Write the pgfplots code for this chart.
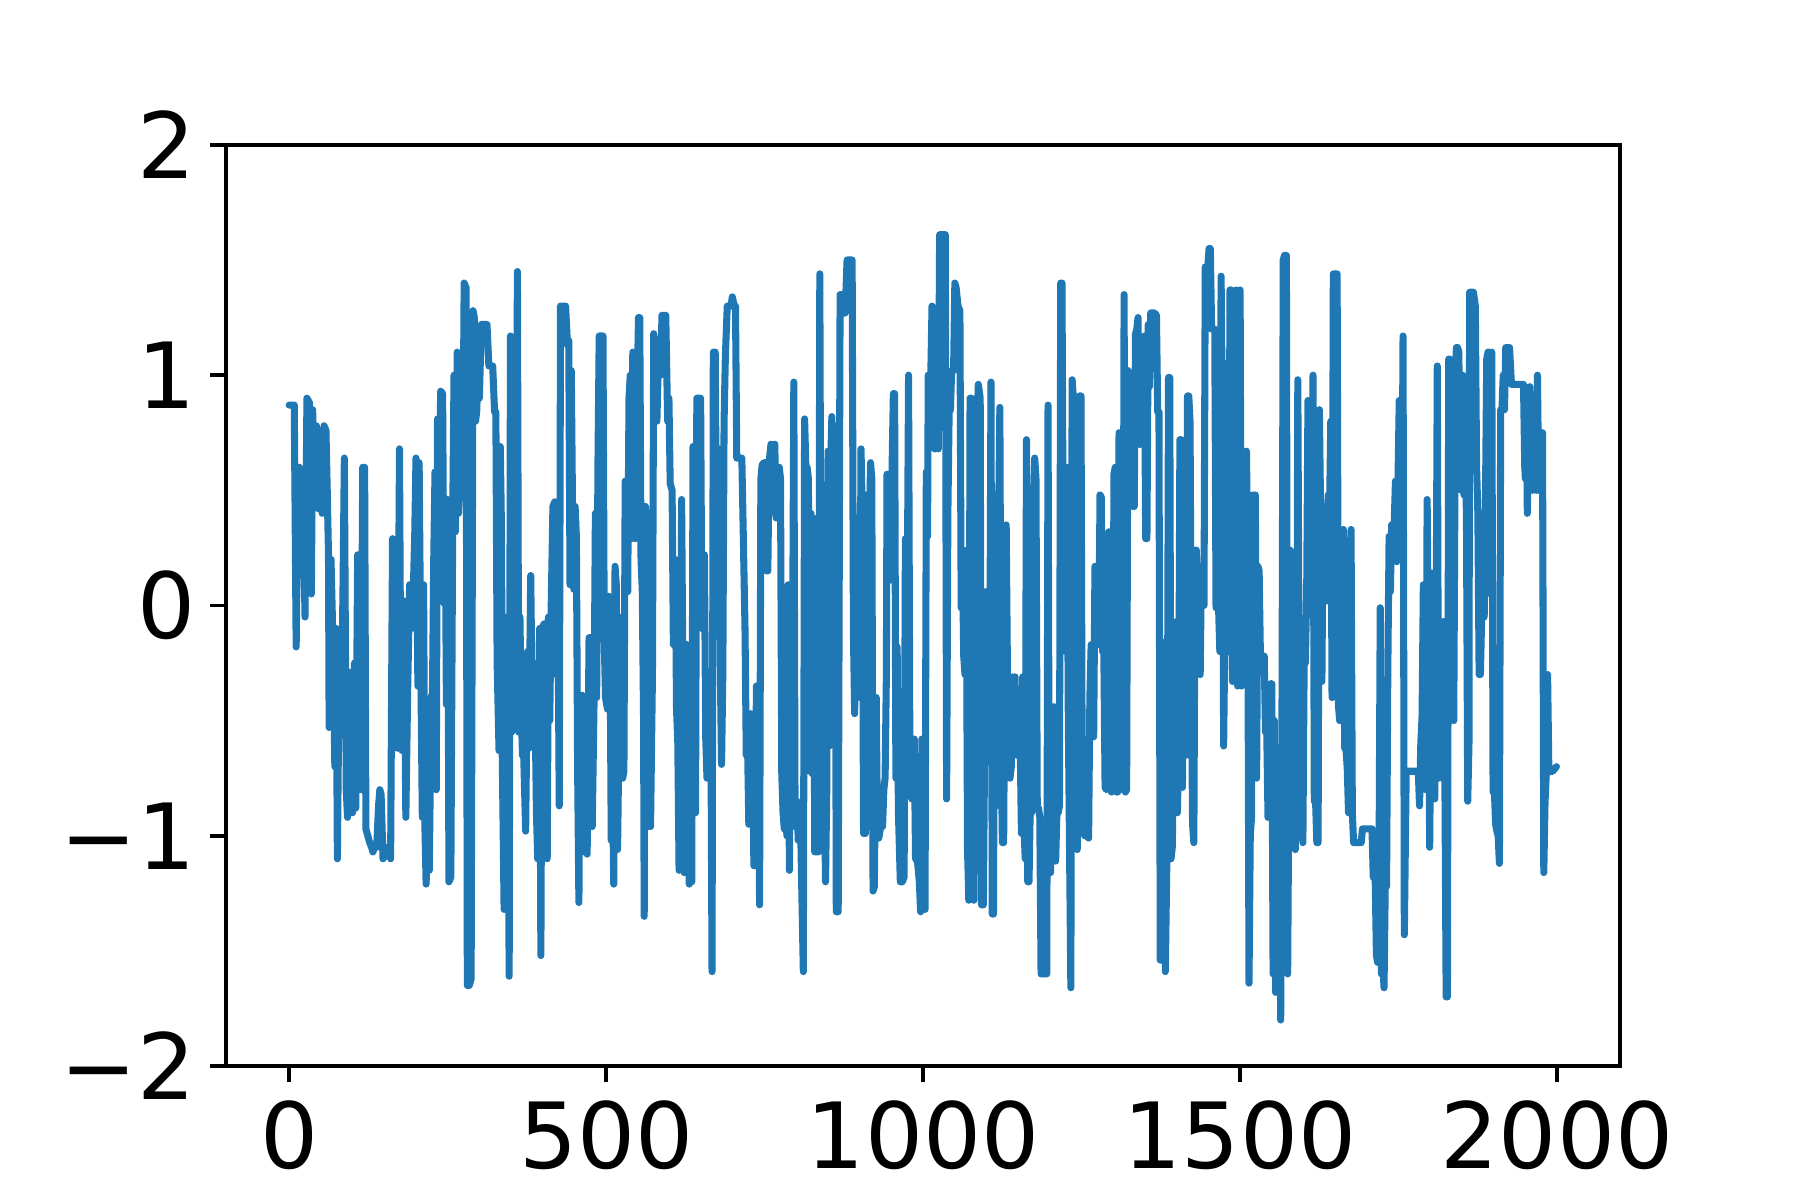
\documentclass[border=0pt]{standalone}
\usepackage{pgfplots}
\pgfplotsset{compat=1.18}
\usepackage{fontspec}
\setmainfont{DejaVu Sans}
\definecolor{c0}{HTML}{1F77B4}
\begin{document}
\begin{tikzpicture}
\begin{axis}[
  at={(0,0)}, anchor=south west,
  scale only axis, width=335.8pt, height=221.9pt,
  xmin=-99.95, xmax=2098.95, ymin=-2, ymax=2,
  xtick={0,500,1000,1500,2000},
  xticklabels={0,500,1000,1500,2000},
  ytick={-2,-1,0,1,2},
  yticklabels={−2,−1,0,1,2},
  xtick pos=bottom, ytick pos=left,
  tick align=outside,
  major tick length=3.8pt,
  tick style={black, line width=0.85pt},
  axis line style={black, line width=0.85pt},
  ticklabel style={font=\fontsize{22}{26}\selectfont},
  xticklabel style={yshift=-1pt},
]
\addplot[c0, line width=1.7pt, line join=round, line cap=round] coordinates {
(0,0.87)(8,0.87)(11,-0.18)(14,0.55)(16,0.60)(19,0.13)(21,0.58)(25,-0.05)(28,0.90)(32,0.88)
(35,0.05)(37,0.85)(40,0.45)(43,0.78)(46,0.42)(49,0.75)(52,0.40)(55,0.78)(58,0.76)(60,0.50)
(62,0.22)(63,-0.53)(66,0.20)(68,-0.04)(70,-0.30)(72,-0.70)(74,-0.10)(76,-1.10)(79,-0.20)(82,-0.55)
(85,0.10)(87,0.64)(90,-0.80)(92,-0.92)(95,-0.29)(97,-0.40)(100,-0.90)(103,-0.25)(105,-0.88)(108,0.22)
(110,-0.50)(113,-0.80)(116,0.60)(119,0.60)(121,-0.97)(124,-1.00)(127,-1.03)(130,-1.05)(132,-1.07)(135,-1.05)
(138,-1.05)(141,-0.87)(143,-0.80)(145,-0.82)(148,-1.10)(152,-1.08)(156,-1.05)(160,-1.10)(163,0.29)(166,-0.60)
(169,-0.14)(171,-0.62)(174,0.68)(176,-0.40)(178,-0.63)(181,0.02)(184,-0.92)(187,-0.35)(190,0.09)(193,-0.10)
(196,0.09)(198,0.30)(200,0.64)(203,-0.35)(205,0.62)(208,-0.38)(210,-0.92)(212,0.09)(214,-0.95)(216,-1.21)
(219,-0.90)(221,-1.15)(224,-0.40)(226,-0.38)(228,0.20)(230,0.58)(232,-0.80)(234,0.81)(237,0.60)(239,0.93)
(242,0.92)(244,0.01)(246,0.45)(248,-0.43)(250,0.46)(252,-1.20)(255,-1.18)(258,0.40)(260,1.0)(262,0.32)
(264,0.55)(265,1.1)(267,0.40)(269,0.53)(271,0.55)(274,0.60)(276,1.40)(279,1.38)(281,-1.65)(284,-1.65)
(287,-1.62)(290,1.28)(292,1.25)(294,0.80)(296,0.85)(298,1.12)(300,0.90)(303,1.22)(306,1.22)(309,1.22)
(312,1.22)(315,1.04)(318,1.04)(321,1.04)(324,0.84)(326,0.84)(328,-0.25)(331,-0.63)(333,0.69)(335,0.30)
(336,-0.63)(339,-1.32)(341,-0.60)(343,-0.05)(345,-0.55)(347,-1.61)(349,1.17)(351,-0.55)(353,-0.05)(355,-0.50)
(357,-0.30)(360,1.45)(362,-0.55)(364,-0.05)(366,-0.45)(368,-0.65)(370,-0.66)(373,-0.98)(376,-0.20)(378,-0.62)
(381,0.13)(384,-0.60)(387,-0.25)(390,-0.90)(392,-1.10)(395,-0.10)(397,-1.52)(399,-0.10)(402,-0.08)(405,-0.55)
(407,-1.10)(409,-0.05)(411,-0.50)(413,-0.05)(416,0.43)(419,0.45)(421,-0.30)(423,0.40)(426,-0.87)(428,1.30)
(432,1.30)(436,1.30)(439,1.13)(441,1.15)(443,0.09)(445,1.02)(447,0.40)(449,0.07)(451,0.43)(453,0.30)
(455,-0.72)(457,-1.29)(459,-0.40)(462,-0.39)(465,-1.07)(467,-0.90)(470,-1.08)(473,-0.14)(476,-0.14)(478,-0.96)
(481,-0.40)(483,0.40)(485,-0.40)(487,0.60)(489,1.17)(492,1.17)(495,1.17)(497,-0.16)(499,-0.40)(502,-0.45)
(504,0.04)(506,-0.10)(508,-1.02)(510,-0.80)(512,-1.21)(514,0.17)(516,0.09)(518,-1.06)(520,-0.60)(522,-0.69)
(524,-0.05)(526,-0.75)(528,-0.72)(530,0.54)(532,0.54)(534,0.06)(536,0.90)(538,1.00)(540,0.29)(542,1.10)
(544,0.35)(546,0.29)(548,0.80)(551,1.25)(553,1.25)(555,0.20)(557,0.06)(559,-0.50)(560,-1.35)(562,0.43)
(564,-0.30)(566,-0.96)(568,0.40)(570,-0.96)(573,-0.30)(575,1.18)(578,1.10)(580,0.80)(583,1.14)(586,1.00)
(588,1.26)(591,1.26)(594,1.26)(597,0.80)(599,0.90)(601,0.53)(604,0.50)(606,-0.17)(609,0.20)(611,-0.45)
(613,-0.60)(615,-1.15)(617,-0.80)(619,0.46)(621,-0.30)(623,-1.16)(625,-0.20)(627,-0.17)(629,-0.90)(631,-1.21)
(633,-0.50)(635,-1.20)(637,0.69)(639,-0.40)(641,-0.90)(643,0.90)(646,0.90)(649,0.90)(651,-0.10)(653,-0.10)
(655,0.22)(657,-0.57)(659,-0.75)(661,-0.60)(663,-0.38)(665,-0.40)(667,-1.59)(669,1.10)(672,1.10)(674,0.30)
(676,0.30)(678,0.68)(680,-0.27)(682,-0.69)(684,-0.30)(686,0.80)(688,1.08)(691,1.30)(694,1.30)(697,1.30)
(699,1.34)(702,1.30)(704,1.30)(706,0.64)(709,0.64)(712,0.64)(714,0.64)(716,0.35)(719,-0.10)(721,-0.65)
(723,-0.60)(725,-0.95)(728,-0.47)(731,-0.60)(733,-1.13)(735,-1.13)(737,-0.35)(740,-0.35)(742,-1.30)(744,0.55)
(746,0.61)(749,0.62)(751,0.62)(753,0.15)(755,0.15)(757,0.62)(760,0.70)(763,0.69)(766,0.70)(768,0.38)
(770,0.38)(773,0.60)(775,0.55)(777,-0.73)(779,-0.90)(781,-0.97)(783,-0.80)(785,-1.0)(787,0.09)(789,-1.15)
(791,-0.20)(793,-0.84)(796,0.97)(798,-0.96)(801,-0.85)(803,-1.02)(805,-0.90)(807,-1.0)(809,-1.30)(811,-1.59)
(813,0.81)(815,0.60)(817,0.60)(819,0.55)(821,-0.72)(823,0.40)(825,-0.73)(827,0.38)(829,-1.07)(832,-1.07)
(835,-1.07)(837,1.44)(839,-0.30)(841,-0.35)(843,-0.50)(846,-1.20)(848,-0.80)(850,0.67)(852,-0.61)(854,0.60)
(856,0.82)(858,0.20)(861,0.78)(863,-1.33)(866,-1.33)(869,1.35)(872,1.35)(874,1.27)(877,1.27)(880,1.50)
(884,1.50)(888,1.50)(890,-0.12)(892,-0.47)(894,0.38)(896,0.38)(898,-0.20)(900,-0.40)(902,0.68)(904,0.40)
(906,-0.99)(909,-0.99)(911,0.48)(913,0.17)(915,0.30)(917,0.62)(919,0.55)(921,-1.24)(923,-1.22)(926,-0.40)
(928,-1.01)(930,-1.01)(933,-0.96)(936,-0.96)(938,-0.80)(940,-0.75)(942,-0.30)(943,0.57)(945,0.11)(948,0.11)
(951,0.60)(953,0.92)(955,0.92)(957,-0.75)(959,-0.18)(961,-0.90)(964,-1.20)(967,-1.20)(970,-1.18)(972,0.29)
(974,-0.40)(977,1.00)(979,-0.60)(982,-0.84)(984,-0.60)(986,-0.58)(988,-1.10)(991,-1.11)(994,-1.20)(996,-1.33)
(998,-0.58)(1000,-1.12)(1001,-0.70)(1003,-1.32)(1005,0.58)(1007,0.30)(1008,1.00)(1010,1.00)(1012,0.99)(1014,1.30)
(1016,1.28)(1018,0.68)(1020,0.68)(1022,0.84)(1024,0.68)(1026,1.61)(1029,1.61)(1033,1.61)(1035,1.61)(1037,-0.84)
(1039,0.40)(1041,0.84)(1043,0.85)(1045,1.02)(1048,1.02)(1050,1.40)(1052,1.38)(1055,1.30)(1058,1.28)(1060,-0.01)
(1062,0.20)(1064,-0.22)(1066,-0.30)(1068,0.24)(1070,-1.06)(1072,-1.28)(1074,0.90)(1076,0.90)(1078,0.78)(1080,-1.28)
(1083,0.77)(1085,0.77)(1087,0.96)(1090,0.90)(1092,-1.30)(1095,-1.30)(1097,-0.60)(1099,0.06)(1101,-0.60)(1103,-0.40)
(1105,-0.40)(1107,0.97)(1109,-1.34)(1111,-1.34)(1113,0.48)(1115,-0.87)(1117,-0.30)(1119,0.35)(1121,0.86)(1123,-0.60)
(1125,-1.03)(1127,-1.03)(1129,-0.12)(1131,0.35)(1133,-0.30)(1135,-0.65)(1137,-0.75)(1139,-0.70)(1141,-0.31)(1143,-0.40)
(1145,-0.31)(1147,-0.65)(1149,-0.40)(1151,-0.40)(1153,-0.58)(1155,-0.99)(1157,-0.31)(1159,-0.96)(1161,-1.10)(1163,0.72)
(1165,-1.20)(1167,-1.20)(1169,-0.87)(1171,-0.90)(1174,0.43)(1176,0.64)(1178,0.55)(1180,-0.88)(1182,-0.88)(1184,-0.92)
(1186,-1.60)(1189,-1.60)(1192,-1.60)(1195,-1.60)(1197,0.87)(1199,-1.16)(1201,-1.16)(1203,-0.63)(1205,-0.44)(1207,-0.44)
(1209,-1.11)(1211,-0.90)(1213,-0.90)(1215,-0.87)(1217,1.40)(1219,1.40)(1221,0.22)(1223,0.30)(1225,-0.20)(1227,0.60)
(1229,-0.50)(1233,-1.66)(1235,0.98)(1237,0.90)(1239,-0.58)(1241,-0.58)(1243,-1.06)(1245,-0.90)(1247,0.91)(1249,0.91)
(1251,-0.85)(1253,-0.85)(1255,-1.0)(1258,-1.0)(1261,-1.01)(1263,-0.40)(1265,-0.17)(1267,-0.55)(1269,-0.57)(1271,0.17)
(1273,0.17)(1275,-0.17)(1277,-0.17)(1279,0.48)(1281,0.47)(1283,-0.20)(1285,-0.20)(1287,-0.79)(1289,-0.80)(1291,-0.79)
(1293,0.32)(1295,0.30)(1297,-0.81)(1299,-0.80)(1301,0.57)(1303,0.60)(1305,-0.81)(1307,-0.81)(1309,0.75)(1311,0.72)
(1313,-0.50)(1315,-0.80)(1317,1.35)(1319,-0.81)(1321,-0.80)(1323,1.02)(1325,1.0)(1327,0.73)(1329,0.73)(1331,0.43)
(1333,0.43)(1335,1.18)(1337,1.20)(1339,1.25)(1341,0.70)(1343,0.70)(1345,1.02)(1347,1.02)(1349,1.17)(1351,0.29)
(1353,0.29)(1355,1.22)(1357,0.95)(1359,1.27)(1362,1.27)(1365,1.27)(1368,1.26)(1370,0.84)(1372,0.84)(1374,-1.54)
(1376,-1.54)(1378,-0.16)(1380,-0.40)(1382,-1.59)(1385,-1.0)(1387,0.99)(1389,0.99)(1391,-1.10)(1393,-1.05)(1395,-0.63)
(1397,-0.60)(1399,-0.07)(1401,-0.90)(1403,-0.63)(1405,0.72)(1407,0.72)(1409,-0.79)(1411,0.30)(1413,-0.65)(1415,-0.65)
(1417,0.91)(1419,0.91)(1421,0.80)(1423,-0.30)(1425,-0.95)(1427,-1.03)(1429,0.24)(1431,0.24)(1433,-0.18)(1435,-0.18)
(1437,-0.3)(1439,0.17)(1441,0.0)(1443,0.0)(1445,1.47)(1447,1.47)(1449,1.47)(1451,1.55)(1453,1.55)(1455,1.20)
(1458,1.20)(1460,1.20)(1462,-0.01)(1464,0.20)(1466,-0.01)(1468,-0.2)(1470,1.43)(1472,0.80)(1474,-0.61)(1476,-0.10)
(1478,1.05)(1480,-0.20)(1482,-0.20)(1484,1.37)(1486,1.37)(1488,-0.33)(1490,0.12)(1492,-0.10)(1494,1.37)(1496,-0.35)
(1498,0.12)(1500,1.37)(1502,-0.35)(1504,0.12)(1506,-0.10)(1508,0.12)(1510,0.67)(1512,0.20)(1514,-1.64)(1516,-1.0)
(1518,-0.92)(1520,0.48)(1522,-0.50)(1524,0.48)(1526,-0.75)(1528,0.17)(1530,0.15)(1532,-0.22)(1535,-0.22)(1538,-0.22)
(1540,-0.55)(1542,-0.55)(1544,-0.92)(1546,-0.90)(1548,-0.34)(1550,-0.34)(1552,-1.60)(1554,-0.50)(1556,-1.68)(1558,-0.90)
(1560,-1.12)(1562,-0.80)(1564,-1.80)(1566,-0.50)(1568,1.50)(1570,1.52)(1573,1.52)(1575,-1.60)(1577,-0.70)(1579,0.24)
(1581,0.20)(1583,-0.60)(1585,-0.60)(1587,-1.06)(1589,-0.80)(1591,0.98)(1593,-0.27)(1595,-0.27)(1597,-0.20)(1599,-1.03)
(1601,-0.25)(1603,-0.25)(1605,0.06)(1607,0.89)(1609,0.06)(1611,0.06)(1613,0.10)(1615,1.00)(1617,-0.85)(1619,-0.85)
(1621,-1.03)(1623,-1.03)(1625,0.85)(1627,0.40)(1629,-0.33)(1631,0.43)(1633,0.43)(1635,0.02)(1637,0.02)(1639,0.48)
(1641,0.40)(1643,0.80)(1645,-0.40)(1647,1.44)(1650,1.44)(1653,1.44)(1655,-0.43)(1657,-0.50)(1659,-0.20)(1661,-0.50)
(1663,0.33)(1665,-0.62)(1667,-0.62)(1669,-0.71)(1671,-0.90)(1673,-0.71)(1675,0.33)(1677,-0.90)(1679,-1.03)(1683,-1.03)
(1687,-1.03)(1691,-1.03)(1693,-0.97)(1697,-0.97)(1701,-0.97)(1705,-0.97)(1708,-0.97)(1710,-1.18)(1713,-1.18)(1715,-1.52)
(1717,-1.55)(1719,-1.18)(1721,-0.01)(1723,-1.60)(1725,-1.55)(1727,-1.66)(1729,-1.20)(1731,-1.22)(1733,-0.27)(1735,0.30)
(1737,0.06)(1739,0.35)(1741,0.30)(1743,0.35)(1745,0.54)(1747,0.19)(1749,0.54)(1751,0.89)(1753,0.85)(1755,0.20)
(1757,1.17)(1759,-1.43)(1762,-0.72)(1766,-0.72)(1770,-0.72)(1774,-0.72)(1778,-0.72)(1781,-0.72)(1783,-0.87)(1785,-0.60)
(1787,-0.48)(1789,0.09)(1791,-0.75)(1793,-0.80)(1795,0.46)(1797,-0.20)(1799,-1.05)(1801,-0.40)(1803,0.14)(1805,-0.75)
(1807,-0.84)(1809,-0.20)(1811,1.04)(1813,-0.75)(1815,-0.40)(1817,-0.07)(1819,-0.75)(1821,-0.07)(1823,-0.75)(1825,-1.70)
(1827,-1.70)(1829,1.07)(1831,1.07)(1833,0.40)(1835,-0.07)(1837,-0.50)(1839,0.60)(1841,1.12)(1843,1.12)(1845,1.10)
(1847,0.55)(1849,0.50)(1851,1.0)(1853,0.48)(1855,0.60)(1857,0.40)(1859,-0.85)(1861,-0.60)(1862,1.36)(1865,1.36)
(1868,1.36)(1871,1.30)(1873,0.60)(1875,0.40)(1877,-0.30)(1879,-0.30)(1881,-0.05)(1883,0.40)(1885,-0.05)(1887,0.46)
(1889,1.07)(1891,1.10)(1893,1.10)(1895,0.05)(1897,1.10)(1899,-0.81)(1901,-0.80)(1903,-0.95)(1905,-0.98)(1907,-1.0)
(1909,-1.12)(1911,0.85)(1913,0.85)(1915,1.00)(1917,0.85)(1919,1.12)(1922,1.12)(1925,1.12)(1928,0.96)(1932,0.96)
(1936,0.96)(1940,0.96)(1944,0.96)(1947,0.96)(1949,0.60)(1950,0.55)(1952,0.85)(1953,0.40)(1955,0.70)(1957,0.95)
(1959,0.60)(1961,0.50)(1963,0.90)(1965,0.52)(1967,0.50)(1969,1.00)(1971,0.50)(1973,0.55)(1975,0.50)(1977,0.75)
(1979,-1.16)(1981,-0.85)(1983,-0.73)(1985,-0.30)(1987,-0.72)(1989,-0.72)(1993,-0.72)(1999,-0.70)
};
\end{axis}
\pgfresetboundingbox
\path[use as bounding box] (-54.4pt,-32.3pt) rectangle (379.2pt,256.8pt);
\end{tikzpicture}
\end{document}
